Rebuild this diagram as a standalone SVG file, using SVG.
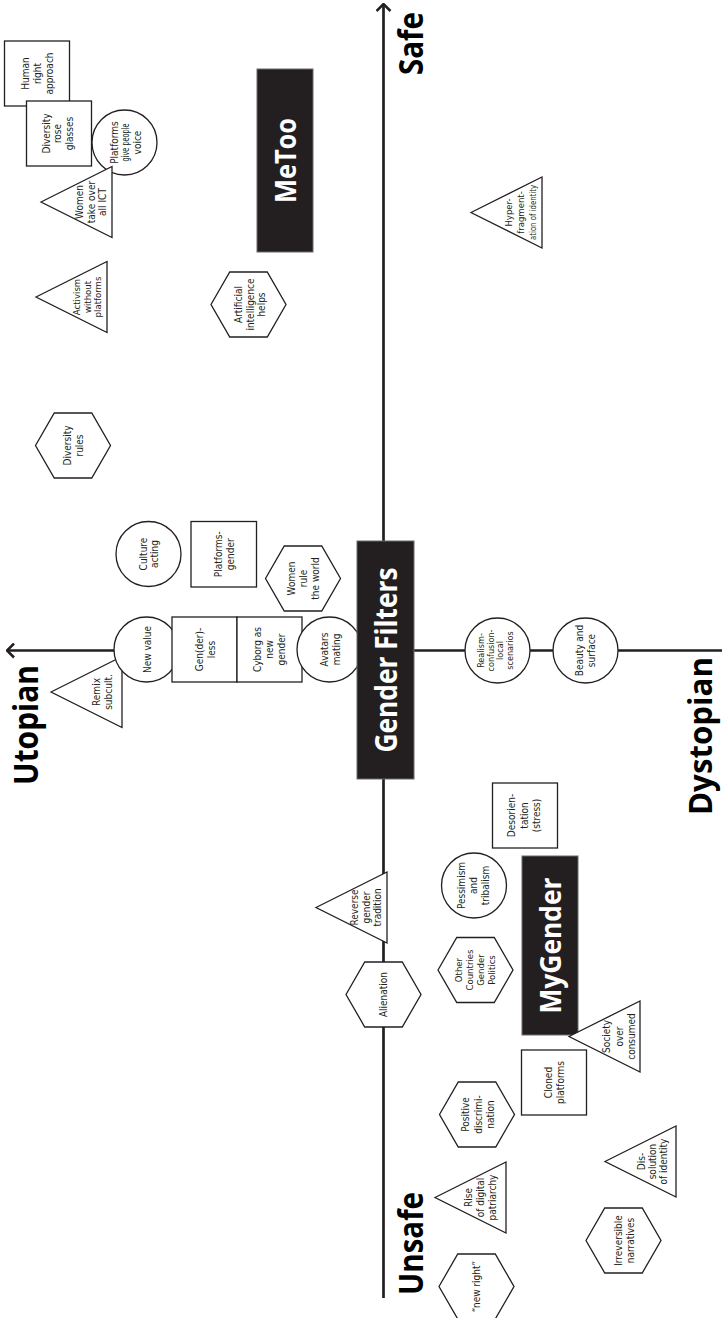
<svg xmlns="http://www.w3.org/2000/svg" xmlns:xlink="http://www.w3.org/1999/xlink" width="722" height="1318" viewBox="0 0 722 1318">
<style>
.s{fill:#fff;stroke:#231f20;stroke-width:1.3}
.b{fill:#231f20;stroke:#6d6a6a;stroke-width:1}
.ax{fill:none;stroke:#231f20;stroke-width:2.7}
.t{font-family:'Liberation Sans Narrow','DejaVu Sans Condensed','Liberation Sans',sans-serif;font-stretch:condensed;font-size:10px;fill:#231f20;text-anchor:middle}
.sm{font-size:9.5px}
.xs{font-size:9px}
.bt{font-family:'Open Sans','Liberation Sans',sans-serif;font-weight:bold;font-size:29px;fill:#fff;text-anchor:middle}
.lbl{font-family:'Open Sans','Liberation Sans',sans-serif;font-weight:bold;font-size:34px;fill:#000}
</style>
<defs>
<path id="hex" d="M0,-37.5L32.5,-18.75L32.5,18.75L0,37.5L-32.5,18.75L-32.5,-18.75Z"/>
<path id="tri" d="M0,0L35.5,71L-35.5,71Z"/>
<marker id="arr" viewBox="0 0 16 16" refX="15" refY="8" markerWidth="16" markerHeight="16" markerUnits="userSpaceOnUse" orient="auto">
<path d="M8,1L15,8L8,15" fill="none" stroke="#231f20" stroke-width="2.5"/>
</marker>
</defs>
<rect width="722" height="1318" fill="#fff"/>
<g transform="translate(0 1318) rotate(-90)">
<g id="axes">
<line class="ax" x1="20" y1="383.5" x2="1314" y2="383.5" marker-end="url(#arr)"/>
<line class="ax" x1="667.5" y1="722" x2="667.5" y2="7" marker-end="url(#arr)"/>
</g>
<g id="labels">
<text class="lbl" x="533" y="38" textLength="120" lengthAdjust="spacingAndGlyphs">Utopian</text>
<text class="lbl" style="font-size:32px" x="503" y="712" textLength="158" lengthAdjust="spacingAndGlyphs">Dystopian</text>
<text class="lbl" x="1243" y="423" textLength="63" lengthAdjust="spacingAndGlyphs">Safe</text>
<text class="lbl" x="23" y="423" textLength="103" lengthAdjust="spacingAndGlyphs">Unsafe</text>
</g>
<g id="n-human"><rect class="s" x="1212" y="4.5" width="65" height="65"/><text class="t"><tspan x="1244.5" y="29">Human</tspan><tspan x="1244.5" y="41">right</tspan><tspan x="1244.5" y="53">approach</tspan></text></g>
<g id="n-rose"><rect class="s" x="1152" y="26.5" width="65" height="65"/><text class="t"><tspan x="1184.5" y="49.5">Diversity</tspan><tspan x="1184.5" y="61">rose</tspan><tspan x="1184.5" y="72.5">glasses</tspan></text></g>
<g id="n-voice"><circle class="s" cx="1175.5" cy="124.5" r="32.5"/><text class="t"><tspan x="1175.5" y="117.5">Platforms</tspan><tspan x="1175.5" y="129" textLength="38" lengthAdjust="spacingAndGlyphs">give people</tspan><tspan x="1175.5" y="140.5">voice</tspan></text></g>
<g id="n-women-ict"><use href="#tri" class="s" x="1116" y="41"/><text class="t"><tspan x="1116" y="83">Women</tspan><tspan x="1116" y="94.5">take over</tspan><tspan x="1116" y="106">all ICT</tspan></text></g>
<g id="n-activism"><use href="#tri" class="s" x="1021" y="36"/><text class="t sm"><tspan x="1021" y="80">Activism</tspan><tspan x="1021" y="90.5">without</tspan><tspan x="1021" y="101">platforms</tspan></text></g>
<g id="n-metoo"><rect class="b" x="1066" y="257" width="183" height="56"/><text class="bt" x="1157.5" y="295.5" textLength="85" lengthAdjust="spacingAndGlyphs">MeToo</text></g>
<g id="n-ai"><use href="#hex" class="s" x="1013.5" y="248.5"/><text class="t"><tspan x="1013.5" y="242">Artificial</tspan><tspan x="1013.5" y="253.5">intelligence</tspan><tspan x="1013.5" y="265">helps</tspan></text></g>
<g id="n-hyper"><use href="#tri" class="s" x="1105.5" y="471"/><text class="t" style="font-size:9.5px"><tspan x="1105.5" y="512">Hyper-</tspan><tspan x="1105.5" y="524">fragment-</tspan><tspan x="1105.5" y="536" textLength="55" lengthAdjust="spacingAndGlyphs">ation of identity</tspan></text></g>
<g id="n-div-rules"><use href="#hex" class="s" x="872.5" y="73"/><text class="t"><tspan x="872.5" y="70.5">Diversity</tspan><tspan x="872.5" y="83">rules</tspan></text></g>
<g id="n-culture"><circle class="s" cx="764" cy="148.5" r="32.5"/><text class="t"><tspan x="764" y="146.5">Culture</tspan><tspan x="764" y="158">acting</tspan></text></g>
<g id="n-plat-gender"><rect class="s" x="731" y="191" width="65.5" height="65.5"/><text class="t"><tspan x="763.75" y="222">Platforms-</tspan><tspan x="763.75" y="234">gender</tspan></text></g>
<g id="n-women-world"><use href="#hex" class="s" x="739.5" y="303"/><text class="t"><tspan x="739.5" y="295">Women</tspan><tspan x="739.5" y="307">rule</tspan><tspan x="739.5" y="319">the world</tspan></text></g>
<g id="n-remix"><use href="#tri" class="s" x="626" y="51"/><text class="t"><tspan x="626" y="100">Remix</tspan><tspan x="626" y="112">subcult.</tspan></text></g>
<g id="n-newvalue"><circle class="s" cx="668.5" cy="146.5" r="32.5"/><text class="t" x="668.5" y="150.5">New value</text></g>
<g id="n-genderless"><rect class="s" x="636" y="172" width="65" height="65"/><text class="t"><tspan x="668.5" y="202.5">Gen(der)-</tspan><tspan x="668.5" y="215">less</tspan></text></g>
<g id="n-cyborg"><rect class="s" x="636" y="237" width="65" height="65"/><text class="t"><tspan x="668.5" y="260.5">Cyborg as</tspan><tspan x="668.5" y="272.5">new</tspan><tspan x="668.5" y="284.5">gender</tspan></text></g>
<g id="n-avatars"><circle class="s" cx="668.5" cy="329.5" r="32.5"/><text class="t"><tspan x="668.5" y="327.5">Avatars</tspan><tspan x="668.5" y="339.5">mating</tspan></text></g>
<g id="n-gf"><rect class="b" x="539" y="357" width="238" height="57"/><text class="bt" style="font-size:30px" x="658" y="396.5" textLength="185" lengthAdjust="spacingAndGlyphs">Gender Filters</text></g>
<g id="n-realism"><circle class="s" cx="667.5" cy="497.5" r="32.5"/><text class="t xs"><tspan x="667.5" y="484">Realism-</tspan><tspan x="667.5" y="493.5">confusion-</tspan><tspan x="667.5" y="503">local</tspan><tspan x="667.5" y="512.5">scenarios</tspan></text></g>
<g id="n-beauty"><circle class="s" cx="667.5" cy="585.5" r="32.5"/><text class="t"><tspan x="667.5" y="583">Beauty and</tspan><tspan x="667.5" y="595">surface</tspan></text></g>
<g id="n-reverse"><use href="#tri" class="s" x="410.5" y="316"/><text class="t"><tspan x="410.5" y="358">Reverse</tspan><tspan x="410.5" y="369.5">gender</tspan><tspan x="410.5" y="381">tradition</tspan></text></g>
<g id="n-alienation"><use href="#hex" class="s" x="323.5" y="383.5"/><text class="t" x="323.5" y="387">Alienation</text></g>
<g id="n-other"><use href="#hex" class="s" x="348" y="475.5"/><text class="t sm"><tspan x="348" y="462">Other</tspan><tspan x="348" y="473">Countries</tspan><tspan x="348" y="484">Gender</tspan><tspan x="348" y="495">Politics</tspan></text></g>
<g id="n-pessimism"><circle class="s" cx="432.5" cy="474" r="32.5"/><text class="t"><tspan x="432.5" y="465">Pessimism</tspan><tspan x="432.5" y="477">and</tspan><tspan x="432.5" y="489">tribalism</tspan></text></g>
<g id="n-desorientation"><rect class="s" x="470" y="492.5" width="65" height="65"/><text class="t"><tspan x="502.5" y="515">Desorien-</tspan><tspan x="502.5" y="527.5">tation</tspan><tspan x="502.5" y="540">(stress)</tspan></text></g>
<g id="n-mygender"><rect class="b" x="283" y="522" width="179" height="56"/><text class="bt" x="372.5" y="560.5" textLength="136" lengthAdjust="spacingAndGlyphs">MyGender</text></g>
<g id="n-society"><use href="#tri" class="s" x="281.5" y="569"/><text class="t"><tspan x="281.5" y="610">Society</tspan><tspan x="281.5" y="622.5">over</tspan><tspan x="281.5" y="634.5">consumed</tspan></text></g>
<g id="n-cloned"><rect class="s" x="203" y="521.5" width="65" height="65"/><text class="t"><tspan x="235.5" y="551.5">Cloned</tspan><tspan x="235.5" y="563.5">platforms</tspan></text></g>
<g id="n-positive"><use href="#hex" class="s" x="203.5" y="477"/><text class="t"><tspan x="203.5" y="469">Positive</tspan><tspan x="203.5" y="481.5">discrimi-</tspan><tspan x="203.5" y="494">nation</tspan></text></g>
<g id="n-dissolution"><use href="#tri" class="s" x="156.5" y="605"/><text class="t"><tspan x="156.5" y="645">Dis-</tspan><tspan x="156.5" y="656">solution</tspan><tspan x="156.5" y="667">of identity</tspan></text></g>
<g id="n-rise"><use href="#tri" class="s" x="120.5" y="435"/><text class="t"><tspan x="120.5" y="472">Rise</tspan><tspan x="120.5" y="484">of digital</tspan><tspan x="120.5" y="496">patriarchy</tspan></text></g>
<g id="n-irreversible"><use href="#hex" class="s" x="77.5" y="623.5"/><text class="t"><tspan x="77.5" y="621.5">Irreversible</tspan><tspan x="77.5" y="634">narratives</tspan></text></g>
<g id="n-newright"><use href="#hex" class="s" x="31.5" y="476.5"/><text class="t" x="31.5" y="480">“new right”</text></g>
</g>
</svg>
